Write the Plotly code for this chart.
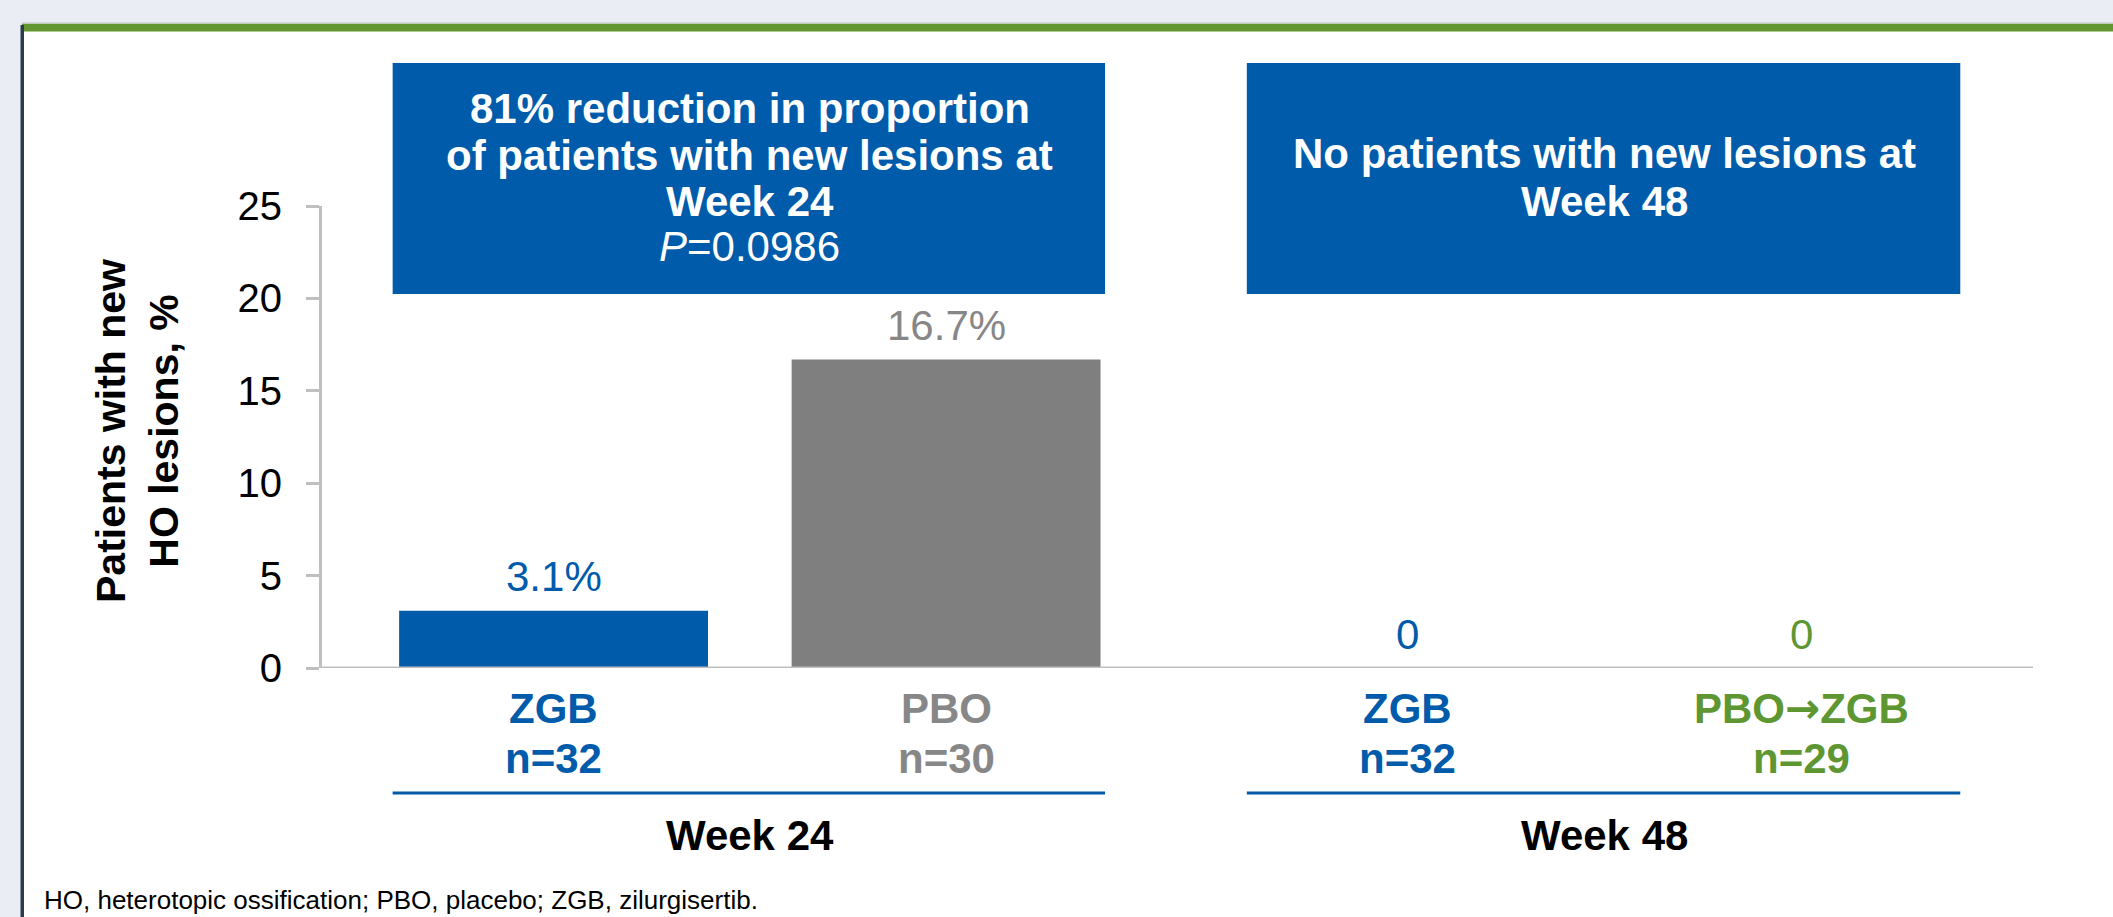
import plotly.graph_objects as go

# ---------------- data ----------------
week24_categories = ["ZGB", "PBO"]
week24_values = [3.1, 16.7]
week24_n = ["n=32", "n=30"]
week24_value_labels = ["3.1%", "16.7%"]

week48_categories = ["ZGB", "PBO→ZGB"]
week48_values = [0, 0]
week48_n = ["n=32", "n=29"]
week48_value_labels = ["0", "0"]

group_labels = ["Week 24", "Week 48"]
y_ticks = [0, 5, 10, 15, 20, 25]
y_title_lines = ["Patients with new", "HO lesions, %"]
box1_lines = ["<b>81% reduction in proportion</b>", "<b>of patients with new lesions at</b>",
              "<b>Week 24</b>", "<i>P</i>=0.0986"]
box2_lines = ["<b>No patients with new lesions at</b>", "<b>Week 48</b>"]
footnote = "HO, heterotopic ossification; PBO, placebo; ZGB, zilurgisertib."

# ---------------- styles ----------------
BLUE = "#005BAA"
GRAY_BAR = "#7F7F7F"
GRAY_TXT = "#878787"
GREEN = "#5E9732"
AXIS_GRAY = "#BFBFBF"
FONT = "Liberation Sans, Arial, sans-serif"

week24_bar_colors = [BLUE, GRAY_BAR]
week24_text_colors = [BLUE, GRAY_TXT]
week48_bar_colors = [BLUE, GREEN]
week48_text_colors = [BLUE, GREEN]

W, H = 2113, 917


def px(x):
    return x / W


def py(y):
    return 1 - y / H


def label_markup(c):
    # render the arrow with a heavier glyph, like the slide's symbol arrow
    return c.replace("→", "<span style='font-family:DejaVu Sans'>→</span>")


fig = go.Figure()
fig.add_trace(go.Bar(x=week24_categories, y=week24_values, marker_color=week24_bar_colors,
                     marker_line_width=0, width=0.787, xaxis="x", yaxis="y",
                     hoverinfo="skip", showlegend=False))
fig.add_trace(go.Bar(x=week48_categories, y=week48_values, marker_color=week48_bar_colors,
                     marker_line_width=0, width=0.787, xaxis="x2", yaxis="y2",
                     hoverinfo="skip", showlegend=False))

shapes = []
# white panel, green top bar, dark left border
shapes.append(dict(type="rect", xref="paper", yref="paper", x0=px(22), x1=1.0, y0=0, y1=py(31),
                   fillcolor="white", line_width=0, layer="below"))
shapes.append(dict(type="rect", xref="paper", yref="paper", x0=px(22), x1=1.0, y0=py(31.5), y1=py(23.5),
                   fillcolor="#629632", line_width=0, layer="below"))
shapes.append(dict(type="rect", xref="paper", yref="paper", x0=px(22), x1=1.0, y0=py(23.5), y1=py(22),
                   fillcolor="#D6D9E2", line_width=0, layer="below"))
shapes.append(dict(type="rect", xref="paper", yref="paper", x0=px(20.5), x1=px(24), y0=0, y1=py(25),
                   fillcolor="#2B3A4C", line_width=0, layer="below"))
# baseline
shapes.append(dict(type="line", xref="paper", yref="y", x0=px(322), x1=px(2033), y0=0, y1=0,
                   line=dict(color=AXIS_GRAY, width=3)))
# blue boxes and group underlines
for xr in ["x", "x2"]:
    shapes.append(dict(type="rect", xref=xr, yref="paper", x0=-0.41, x1=1.405, y0=py(294), y1=py(63),
                       fillcolor=BLUE, line_width=0, layer="below"))
    shapes.append(dict(type="line", xref=xr, yref="paper", x0=-0.41, x1=1.405, y0=py(793), y1=py(793),
                       line=dict(color=BLUE, width=3)))

annotations = []
# value labels
for cats, vals, labs, cols, xr, yr in [
    (week24_categories, week24_values, week24_value_labels, week24_text_colors, "x", "y"),
    (week48_categories, week48_values, week48_value_labels, week48_text_colors, "x2", "y2"),
]:
    for c, v, lab, col in zip(cats, vals, labs, cols):
        annotations.append(dict(x=c, y=v, xref=xr, yref=yr, text=lab, showarrow=False,
                                yanchor="middle", yshift=34,
                                font=dict(family=FONT, size=42, color=col)))

# category labels
for cats, ns, cols, xr in [
    (week24_categories, week24_n, week24_text_colors, "x"),
    (week48_categories, week48_n, week48_text_colors, "x2"),
]:
    for c, n, col in zip(cats, ns, cols):
        annotations.append(dict(x=c, y=py(708), xref=xr, yref="paper", text="<b>" + label_markup(c) + "</b>",
                                showarrow=False, yanchor="middle",
                                font=dict(family=FONT, size=42, color=col)))
        annotations.append(dict(x=c, y=py(758.5), xref=xr, yref="paper", text="<b>" + n + "</b>",
                                showarrow=False, yanchor="middle",
                                font=dict(family=FONT, size=42, color=col)))

# group labels
for g, xr in zip(group_labels, ["x", "x2"]):
    annotations.append(dict(x=0.5, y=py(835.5), xref=xr, yref="paper", text="<b>" + g + "</b>",
                            showarrow=False, yanchor="middle",
                            font=dict(family=FONT, size=42, color="black")))

# box texts
for line, yy in zip(box1_lines, [108, 155, 201, 246]):
    annotations.append(dict(x=0.5, y=py(yy), xref="x", yref="paper", text=line, showarrow=False,
                            yanchor="middle", font=dict(family=FONT, size=42, color="white")))
for line, yy in zip(box2_lines, [153.5, 201.5]):
    annotations.append(dict(x=0.5, y=py(yy), xref="x2", yref="paper", text=line, showarrow=False,
                            yanchor="middle", font=dict(family=FONT, size=42, color="white")))

# y axis title
annotations.append(dict(x=px(138), y=py(431), xref="paper", yref="paper",
                        text="<b>" + y_title_lines[0] + "</b><br><b>" + y_title_lines[1] + "</b>",
                        showarrow=False, textangle=-90, xanchor="center", yanchor="middle",
                        font=dict(family=FONT, size=41, color="black")))

# footnote
annotations.append(dict(x=px(42), y=py(900), xref="paper", yref="paper", text=footnote,
                        showarrow=False, xanchor="left", yanchor="middle",
                        font=dict(family=FONT, size=26, color="black")))

fig.update_layout(
    template="none",
    width=W, height=H,
    margin=dict(l=0, r=0, t=0, b=0, pad=0, autoexpand=False),
    paper_bgcolor="#EBEDF5",
    plot_bgcolor="rgba(0,0,0,0)",
    font=dict(family=FONT),
    showlegend=False,
    xaxis=dict(domain=[px(322), px(1180)], range=[-0.59, 1.596], type="category", automargin=False,
               showline=False, showticklabels=False, ticks="", showgrid=False, zeroline=False,
               fixedrange=True, anchor="y"),
    xaxis2=dict(domain=[px(1180), px(2033)], range=[-0.58, 1.59], type="category", automargin=False,
                showline=False, showticklabels=False, ticks="", showgrid=False, zeroline=False,
                fixedrange=True, anchor="y2"),
    yaxis=dict(domain=[py(668), py(206)], range=[0, 25], tickvals=y_ticks, automargin=False,
               showline=True, linecolor=AXIS_GRAY, linewidth=3,
               ticks="outside", ticklen=13, tickwidth=3, tickcolor=AXIS_GRAY,
               tickfont=dict(family=FONT, size=40, color="black"), ticklabelstandoff=16,
               showgrid=False, zeroline=False, fixedrange=True, anchor="x"),
    yaxis2=dict(domain=[py(668), py(206)], range=[0, 25], matches="y", visible=False, automargin=False,
                showgrid=False, zeroline=False, fixedrange=True, anchor="x2"),
    shapes=shapes,
    annotations=annotations,
)

fig.write_html(
    "out.html",
    config={"displayModeBar": False},
    post_script="document.body.style.margin='0';document.body.style.overflow='hidden';"
                "document.body.style.background='#EBEDF5';",
)
